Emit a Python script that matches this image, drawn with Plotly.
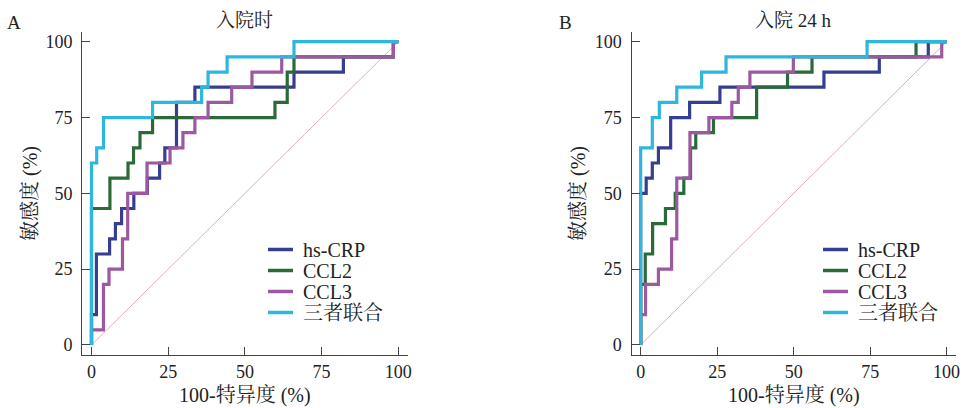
import plotly.graph_objects as go

# ---------------- data ----------------
series_names = ["hs-CRP", "CCL2", "CCL3", "三者联合"]
panel_titles = ["入院时", "入院 24 h"]
panel_letters = ["A", "B"]
x_title = "100-特异度 (%)"
y_title = "敏感度 (%)"
tick_vals = [0, 25, 50, 75, 100]

# Panel A (入院时): ROC step vertices (100-specificity, sensitivity), %
a_crp_x = [0, 0, 1.6, 5.9, 7.8, 9.8, 13.8, 18.2, 22.2, 23.9, 27.7, 33.7, 66.0, 82.1, 98.4, 100]
a_crp_y = [0, 10, 30, 35, 40, 45, 50, 55, 60, 65, 80, 85, 90, 95, 100, 100]
a_ccl2_x = [0, 0, 6.0, 11.9, 13.7, 15.8, 19.9, 59.8, 63.8, 66.0, 98.4, 100]
a_ccl2_y = [0, 45, 55, 60, 65, 70, 75, 80, 90, 95, 100, 100]
a_ccl3_x = [0, 0, 3.9, 5.7, 10.1, 11.8, 18.1, 25.6, 29.8, 33.7, 38.0, 45.7, 52.3, 62.0, 98.4, 100]
a_ccl3_y = [0, 5, 20, 25, 35, 50, 60, 65, 70, 75, 80, 85, 90, 95, 100, 100]
a_comb_x = [0, 0, 1.7, 3.9, 19.9, 35.9, 38.0, 44.2, 66.0, 100]
a_comb_y = [0, 60, 65, 75, 80, 85, 90, 95, 100, 100]

# Panel B (入院 24 h)
b_crp_x = [0, 0, 1.8, 3.8, 5.8, 9.8, 16.0, 25.9, 59.9, 78.0, 94.0, 100]
b_crp_y = [0, 50, 55, 60, 65, 75, 80, 85, 90, 95, 100, 100]
b_ccl2_x = [0, 0, 1.5, 3.9, 8.1, 11.3, 14.1, 16.3, 18.0, 23.8, 37.9, 48.0, 56.0, 90.0, 100]
b_ccl2_y = [0, 20, 30, 40, 45, 50, 55, 65, 70, 75, 85, 90, 95, 100, 100]
b_ccl3_x = [0, 0, 1.6, 5.8, 10.1, 11.8, 16.1, 22.3, 29.8, 31.9, 35.7, 49.9, 98.4, 100]
b_ccl3_y = [0, 10, 20, 25, 35, 55, 70, 75, 80, 85, 90, 95, 100, 100]
b_comb_x = [0, 0, 3.8, 6.1, 11.8, 19.9, 27.9, 74.0, 100]
b_comb_y = [0, 65, 75, 80, 85, 90, 95, 100, 100]

ref_x = [0, 100]
ref_y = [0, 100]

# ---------------- styles ----------------
colors = ["#363E91", "#2A6A38", "#9C58A0", "#2DB7DE"]
SERIF = "Liberation Serif, Times New Roman, Noto Serif CJK SC, Noto Sans CJK SC, serif"
TXT = "#222222"
FS_TICK = 18
FS_TEXT = 20

panels = [
    [(a_crp_x, a_crp_y), (a_ccl2_x, a_ccl2_y), (a_ccl3_x, a_ccl3_y), (a_comb_x, a_comb_y)],
    [(b_crp_x, b_crp_y), (b_ccl2_x, b_ccl2_y), (b_ccl3_x, b_ccl3_y), (b_comb_x, b_comb_y)],
]

W, H = 962, 408
x_domains = [[82.3 / W, 407.5 / W], [631.5 / W, 955.8 / W]]
y_domain = [(H - 355) / H, (H - 31.7) / H]

fig = go.Figure()
for p, curves in enumerate(panels):
    xa = "x" if p == 0 else "x2"
    ya = "y" if p == 0 else "y2"
    fig.add_trace(go.Scatter(
        x=ref_x, y=ref_y, mode="lines", xaxis=xa, yaxis=ya,
        line=dict(color="rgba(200,120,150,0.75)", width=0.8),
        showlegend=False, hoverinfo="skip"))
    for i, (xs, ys) in enumerate(curves):
        fig.add_trace(go.Scatter(
            x=xs, y=ys, mode="lines", line_shape="hv", xaxis=xa, yaxis=ya,
            name=series_names[i], showlegend=False,
            line=dict(color=colors[i], width=3.2)))

axis_common = dict(
    tickvals=tick_vals, ticktext=[str(v) for v in tick_vals],
    ticks="inside", ticklen=8, tickwidth=1.2, tickcolor="#444",
    showline=True, linecolor="#444", linewidth=1.3,
    showgrid=False, zeroline=False, automargin=False,
    tickfont=dict(family=SERIF, size=FS_TICK, color=TXT),
)
xr = [-3, 103]
yr = [-3.3, 103.3]

fig.update_layout(
    template="none",
    width=W, height=H,
    margin=dict(l=0, r=0, t=0, b=0, pad=0),
    paper_bgcolor="white", plot_bgcolor="white",
    showlegend=False,
    xaxis=dict(domain=x_domains[0], anchor="y", range=xr, ticklabelstandoff=0, **axis_common),
    yaxis=dict(domain=y_domain, anchor="x", range=yr, ticklabelstandoff=5, **axis_common),
    xaxis2=dict(domain=x_domains[1], anchor="y2", range=xr, ticklabelstandoff=0, **axis_common),
    yaxis2=dict(domain=y_domain, anchor="x2", range=yr, ticklabelstandoff=5, **axis_common),
)

# Legend drawn as line samples + text (tight row spacing as in the reference)
legend_left = [268 / W, 823 / W]
legend_rows = [249.5, 270.5, 291.5, 312.5]
annotations = []
shapes = []
for p in range(2):
    cx = (x_domains[p][0] + x_domains[p][1]) / 2
    annotations.append(dict(text=panel_titles[p], x=cx, y=(H - 20) / H, xref="paper", yref="paper",
                            showarrow=False, xanchor="center", yanchor="middle",
                            font=dict(family=SERIF, size=FS_TEXT - 1, color=TXT)))
    annotations.append(dict(text=x_title, x=cx, y=(H - 395) / H, xref="paper", yref="paper",
                            showarrow=False, xanchor="center", yanchor="middle",
                            font=dict(family=SERIF, size=FS_TEXT, color=TXT)))
    annotations.append(dict(text=y_title, x=(30 if p == 0 else 578) / W, y=(H - 194) / H,
                            xref="paper", yref="paper", textangle=-90,
                            showarrow=False, xanchor="center", yanchor="middle",
                            font=dict(family=SERIF, size=FS_TEXT, color=TXT)))
    annotations.append(dict(text=panel_letters[p], x=(14 if p == 0 else 565) / W, y=(H - 22) / H,
                            xref="paper", yref="paper", showarrow=False,
                            xanchor="center", yanchor="middle",
                            font=dict(family=SERIF, size=FS_TEXT - 1, color=TXT)))
    for i, name in enumerate(series_names):
        yy = (H - legend_rows[i]) / H
        shapes.append(dict(type="line", xref="paper", yref="paper",
                           x0=legend_left[p], x1=legend_left[p] + 25 / W, y0=yy, y1=yy,
                           line=dict(color=colors[i], width=3.5)))
        annotations.append(dict(text=name, x=legend_left[p] + 33 / W, y=yy,
                                xref="paper", yref="paper", showarrow=False,
                                xanchor="left", yanchor="middle",
                                font=dict(family=SERIF, size=FS_TEXT, color=TXT)))
fig.update_layout(annotations=annotations, shapes=shapes)

fig.write_html("out.html", config={"displayModeBar": False},
               post_script="document.body.style.margin='0';document.body.style.overflow='hidden';")
